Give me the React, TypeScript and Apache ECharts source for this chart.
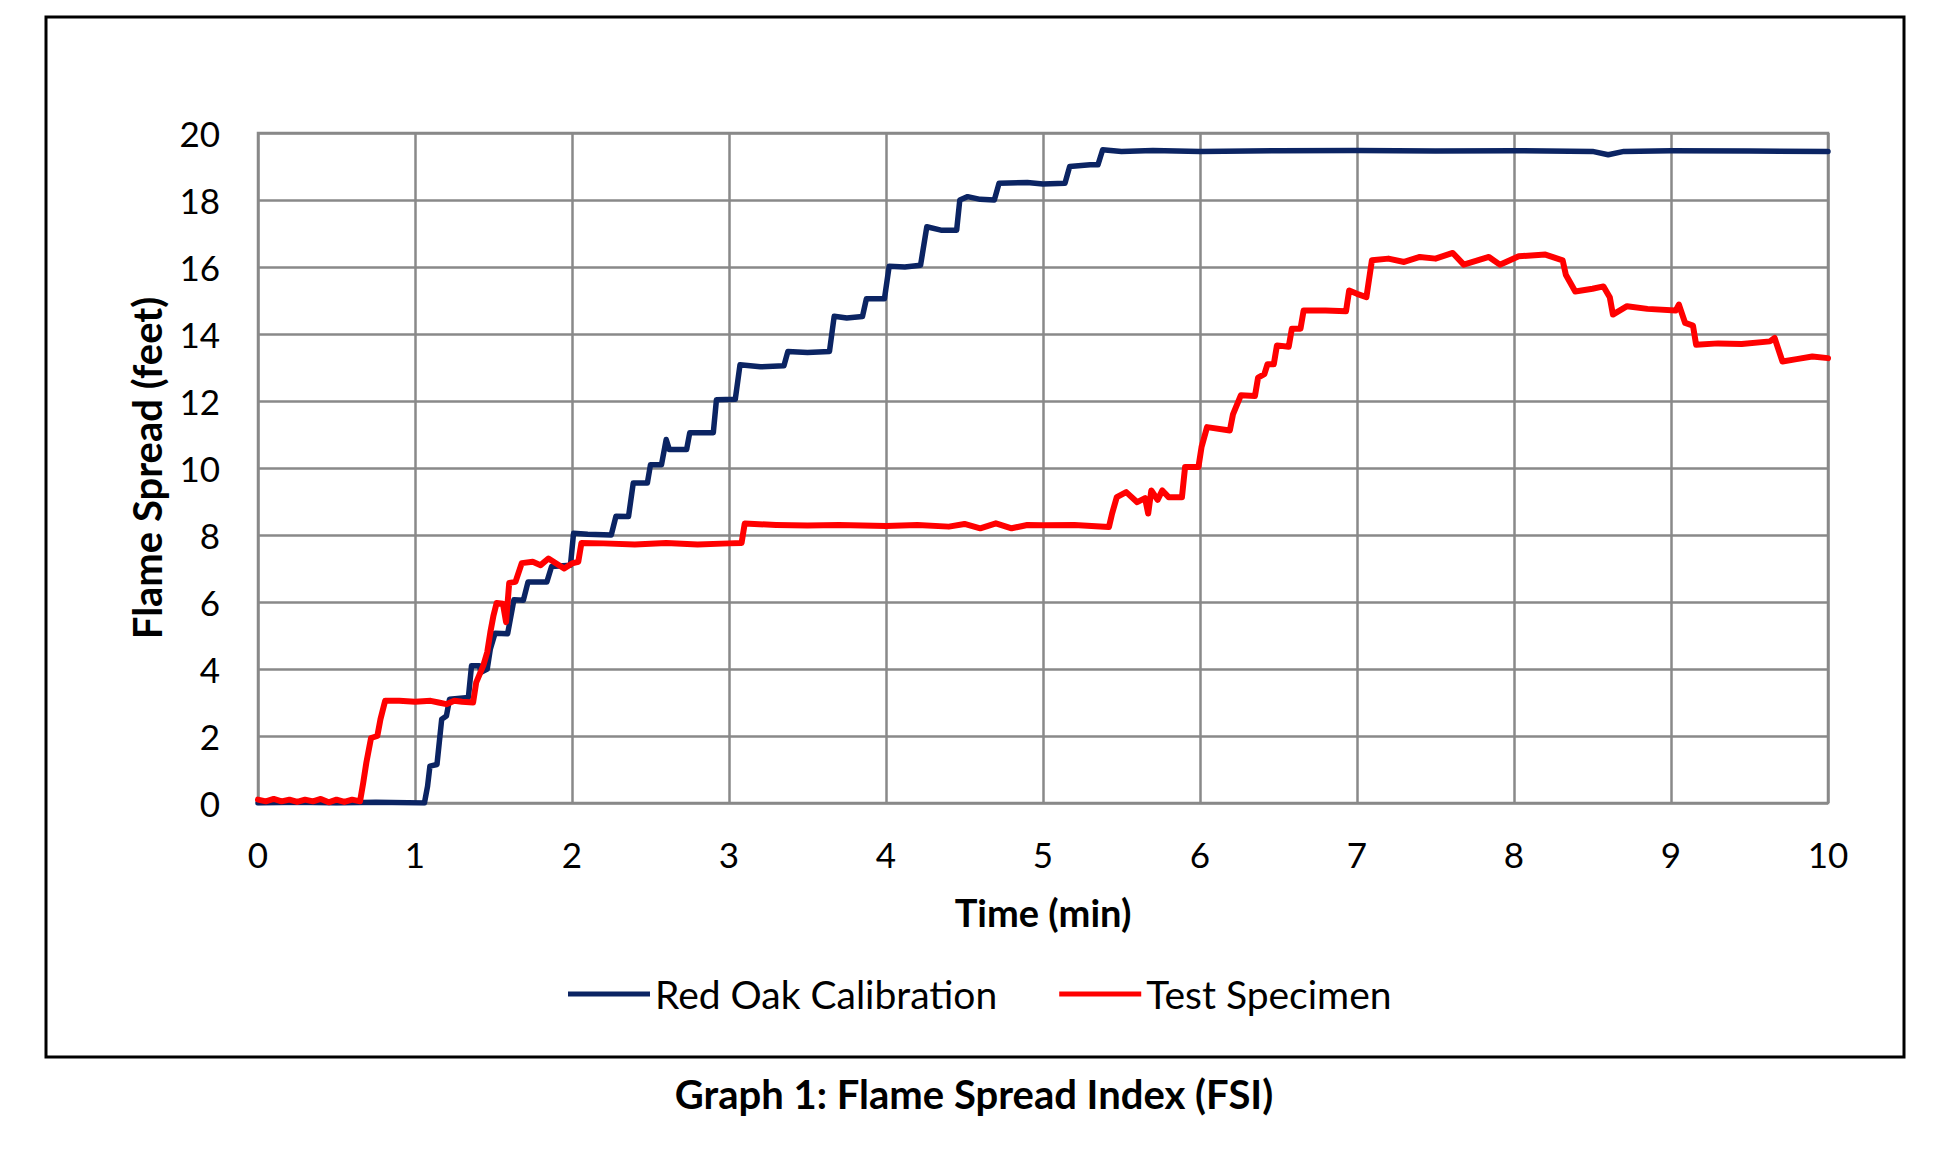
import React, { useEffect, useRef } from "react";
import * as echarts from "echarts";

// ---- Data (time in minutes, flame spread in feet) ----
const seriesNames = ["Red Oak Calibration", "Test Specimen"];

const redOakCalibration: [number, number][] = [
  [0, 0], [0.25, 0.02], [0.5, 0.0], [0.75, 0.02], [1.06, 0.0], [1.08, 0.5], [1.095, 1.1],
  [1.14, 1.15], [1.15, 1.6], [1.17, 2.5], [1.2, 2.6], [1.22, 3.1], [1.34, 3.15],
  [1.36, 4.1], [1.41, 4.1], [1.42, 3.9], [1.46, 4.0], [1.48, 4.6], [1.51, 5.07],
  [1.59, 5.05], [1.63, 6.07], [1.69, 6.05], [1.72, 6.6], [1.84, 6.6], [1.87, 7.06],
  [1.99, 7.1], [2.01, 8.05], [2.1, 8.02], [2.25, 8.0], [2.28, 8.56], [2.36, 8.55], [2.39, 9.55],
  [2.48, 9.55], [2.5, 10.1], [2.57, 10.1], [2.6, 10.85], [2.62, 10.55], [2.73, 10.55],
  [2.75, 11.05], [2.9, 11.05], [2.92, 12.04], [3.04, 12.05], [3.07, 13.08], [3.2, 13.02],
  [3.35, 13.05], [3.375, 13.48], [3.5, 13.45], [3.64, 13.48], [3.67, 14.53], [3.75, 14.48],
  [3.85, 14.52], [3.875, 15.05], [3.99, 15.05], [4.02, 16.02], [4.12, 16.0], [4.22, 16.05],
  [4.26, 17.2], [4.35, 17.1], [4.45, 17.1], [4.47, 18.0], [4.52, 18.1], [4.6, 18.02],
  [4.69, 18.0], [4.72, 18.5], [4.9, 18.52], [5.0, 18.48], [5.14, 18.5], [5.17, 19.0],
  [5.3, 19.05], [5.35, 19.05], [5.38, 19.5], [5.5, 19.45], [5.7, 19.48], [6.0, 19.45],
  [6.5, 19.47], [7.0, 19.48], [7.5, 19.46], [8.0, 19.47], [8.5, 19.45], [8.6, 19.35],
  [8.7, 19.45], [9.0, 19.47], [9.5, 19.46], [10.0, 19.45],
];

const testSpecimen: [number, number][] = [
  [0, 0.1], [0.05, 0.05], [0.1, 0.12], [0.15, 0.05], [0.2, 0.1], [0.25, 0.03], [0.3, 0.1],
  [0.35, 0.05], [0.4, 0.12], [0.45, 0.02], [0.5, 0.1], [0.55, 0.03], [0.6, 0.1], [0.65, 0.05],
  [0.67, 0.6], [0.69, 1.2], [0.72, 1.94], [0.76, 2.0], [0.78, 2.5], [0.81, 3.05], [0.9, 3.05],
  [1.0, 3.02], [1.1, 3.05], [1.15, 3.0], [1.2, 2.95], [1.25, 3.05], [1.3, 3.02], [1.37, 3.0],
  [1.39, 3.6], [1.435, 4.1], [1.46, 4.5], [1.48, 5.1], [1.5, 5.6], [1.52, 5.97], [1.56, 5.95],
  [1.58, 5.4], [1.6, 6.57], [1.64, 6.6], [1.68, 7.16], [1.75, 7.2], [1.8, 7.1], [1.85, 7.3],
  [1.9, 7.15], [1.95, 7.0], [2.0, 7.15], [2.04, 7.2], [2.06, 7.76], [2.2, 7.75], [2.4, 7.72],
  [2.6, 7.76], [2.8, 7.72], [3.0, 7.75], [3.08, 7.76], [3.1, 8.34], [3.3, 8.3], [3.5, 8.28],
  [3.7, 8.3], [4.0, 8.27], [4.2, 8.3], [4.4, 8.25], [4.5, 8.33], [4.6, 8.2], [4.7, 8.35],
  [4.8, 8.2], [4.9, 8.3], [5.0, 8.29], [5.2, 8.3], [5.42, 8.24], [5.44, 8.64], [5.47, 9.13],
  [5.53, 9.28], [5.6, 8.98], [5.65, 9.1], [5.67, 8.64], [5.69, 9.33], [5.73, 9.05],
  [5.76, 9.33], [5.8, 9.13], [5.885, 9.13], [5.905, 10.03], [5.99, 10.03], [6.01, 10.63],
  [6.045, 11.22], [6.19, 11.12], [6.21, 11.6], [6.26, 12.17], [6.35, 12.15], [6.37, 12.7],
  [6.41, 12.8], [6.43, 13.1], [6.47, 13.1], [6.49, 13.66], [6.565, 13.62], [6.585, 14.16],
  [6.64, 14.16], [6.66, 14.7], [6.8, 14.7], [6.93, 14.68], [6.95, 15.3], [7.0, 15.2],
  [7.06, 15.1], [7.095, 16.2], [7.2, 16.25], [7.3, 16.15], [7.4, 16.3], [7.5, 16.25],
  [7.61, 16.42], [7.68, 16.07], [7.84, 16.3], [7.91, 16.07], [8.03, 16.32], [8.2, 16.37],
  [8.31, 16.2], [8.33, 15.77], [8.39, 15.27], [8.5, 15.35], [8.57, 15.42], [8.61, 15.1],
  [8.63, 14.58], [8.72, 14.83], [8.85, 14.75], [9.03, 14.7], [9.05, 14.88], [9.09, 14.33],
  [9.14, 14.25], [9.16, 13.68], [9.3, 13.72], [9.45, 13.7], [9.63, 13.78], [9.66, 13.88],
  [9.71, 13.18], [9.8, 13.25], [9.9, 13.33], [10.0, 13.28],
];

const xAxisRange = { min: 0, max: 10, interval: 1 };
const yAxisRange = { min: 0, max: 20, interval: 2 };

const xAxisTitle = "Time (min)";
const yAxisTitle = "Flame Spread (feet)";
const caption = "Graph 1: Flame Spread Index (FSI)";

const FONT = "Lato, 'Open Sans', sans-serif";
const GRID_COLOR = "#898989";
const BLUE = "#0b2463";
const RED = "#ff0000";

export default function App() {
  const ref = useRef<HTMLDivElement>(null);

  useEffect(() => {
    if (!ref.current) return;
    const chart = echarts.init(ref.current, undefined, { renderer: "svg" });
    const option: any = {
      animation: false,
      backgroundColor: "#ffffff",
      grid: {
        left: 258,
        top: 133,
        width: 1570,
        height: 670,
        show: true,
        borderColor: GRID_COLOR,
        borderWidth: 2.5,
        containLabel: false,
      },
      xAxis: {
        type: "value",
        min: xAxisRange.min,
        max: xAxisRange.max,
        interval: xAxisRange.interval,
        axisLine: { show: false },
        axisTick: { show: false },
        axisLabel: {
          color: "#000",
          fontFamily: FONT,
          fontSize: 35,
          lineHeight: 40,
          margin: 31,
        },
        splitLine: { show: true, lineStyle: { color: GRID_COLOR, width: 2.5 } },
      },
      yAxis: {
        type: "value",
        min: yAxisRange.min,
        max: yAxisRange.max,
        interval: yAxisRange.interval,
        axisLine: { show: false },
        axisTick: { show: false },
        axisLabel: {
          color: "#000",
          fontFamily: FONT,
          fontSize: 35,
          margin: 38,
        },
        splitLine: { show: true, lineStyle: { color: GRID_COLOR, width: 2.5 } },
      },
      legend: {
        data: [
          { name: seriesNames[0], icon: "rect", itemStyle: { color: BLUE } },
          { name: seriesNames[1], icon: "rect", itemStyle: { color: RED } },
        ],
        left: 563,
        top: 966,
        itemWidth: 82,
        itemHeight: 5,
        itemGap: 62,
        textStyle: {
          color: "#000",
          fontFamily: FONT,
          fontSize: 39,
          lineHeight: 46,
        },
      },
      series: [
        {
          name: seriesNames[0],
          type: "line",
          data: redOakCalibration,
          symbol: "none",
          showSymbol: false,
          lineStyle: { color: BLUE, width: 5.5, join: "round", cap: "round" },
          itemStyle: { color: BLUE },
          z: 3,
        },
        {
          name: seriesNames[1],
          type: "line",
          data: testSpecimen,
          symbol: "none",
          showSymbol: false,
          lineStyle: { color: RED, width: 6, join: "round", cap: "round" },
          itemStyle: { color: RED },
          z: 4,
        },
      ],
      graphic: [
        {
          type: "rect",
          shape: { x: 46, y: 17, width: 1858, height: 1040 },
          style: { fill: "none", stroke: "#000", lineWidth: 3 },
          silent: true,
        },
        {
          type: "text",
          x: 147,
          y: 468,
          rotation: Math.PI / 2,
          style: {
            text: yAxisTitle,
            fill: "#000",
            font: `bold 40px ${FONT}`,
            align: "center",
            verticalAlign: "middle",
          },
        },
        {
          type: "text",
          x: 1043,
          y: 912,
          style: {
            text: xAxisTitle,
            fill: "#000",
            font: `bold 38px ${FONT}`,
            align: "center",
            verticalAlign: "middle",
          },
        },
        {
          type: "text",
          x: 974,
          y: 1094,
          style: {
            text: caption,
            fill: "#000",
            font: `bold 40px ${FONT}`,
            align: "center",
            verticalAlign: "middle",
          },
        },
      ],
    };
    chart.setOption(option);
    return () => chart.dispose();
  }, []);

  return (
    <div
      ref={ref}
      style={{ position: "fixed", left: 0, top: 0, width: 1939, height: 1154, background: "#fff" }}
    />
  );
}
